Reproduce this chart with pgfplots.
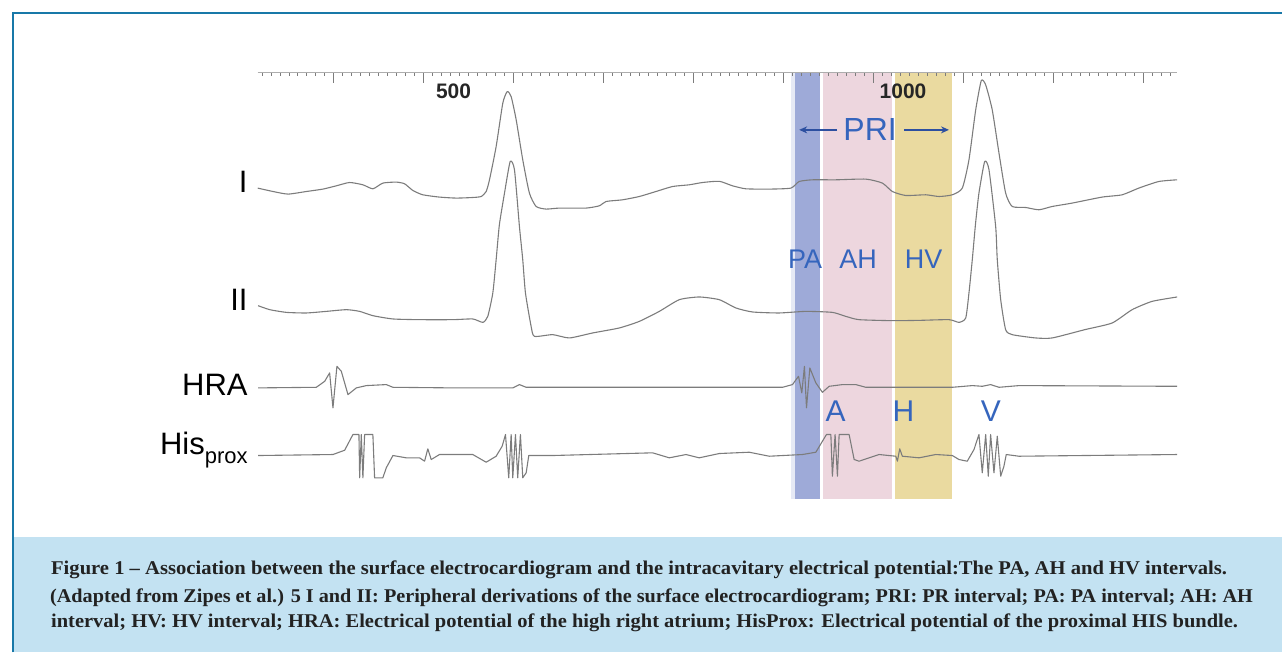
\documentclass[border=0pt]{standalone}
\usepackage{fontspec}
\setmainfont{Liberation Serif}
\newfontfamily\sansf{Liberation Sans}
\usepackage{graphicx}
\usepackage{pgfplots}
\pgfplotsset{compat=1.18}
\usetikzlibrary{arrows.meta}
\definecolor{frameblue}{HTML}{1878A8}
\definecolor{capbg}{HTML}{C3E2F2}
\definecolor{bandblue}{HTML}{9EAAD8}
\definecolor{bandpale}{HTML}{E6E9F5}
\definecolor{bandpink}{HTML}{EDD6DE}
\definecolor{bandyellow}{HTML}{EADAA0}
\definecolor{lblblue}{HTML}{3565BD}
\definecolor{arrowblue}{HTML}{2C4FA0}
\definecolor{trace}{HTML}{7C7C7C}
\definecolor{captext}{HTML}{222222}
\definecolor{ruler}{HTML}{8A8A8A}
\begin{document}
\begin{tikzpicture}
\path (0pt,0pt) rectangle (1283pt,653pt);
\begin{scope}[x=1pt,y=1pt]
\fill[capbg] (14.5,0) rectangle (1283,115);
\draw[frameblue,line width=2.7pt] (13,0) -- (13,640) -- (1283,640);
\end{scope}
\begin{axis}[
  at={(257.8pt,153pt)}, anchor=south west,
  scale only axis, width=920.7pt, height=427pt,
  xmin=282, xmax=1305, ymin=0, ymax=427,
  axis x line*=top, axis y line=none,
  axis line style={draw=ruler!70, line width=0.9pt},
  xtick={367,467,...,1267}, xticklabels={},
  minor xtick={287,297,...,1297},
  tick align=inside,
  major tick length=10pt, minor tick length=3.5pt,
  every tick/.style={ruler!90!black, line width=1pt},
  axis on top,
]
% interval bands
\addplot[draw=none, fill=bandpale] coordinates {(875.6,0) (875.6,427) (880,427) (880,0)} --cycle;
\addplot[draw=none, fill=bandblue] coordinates {(880,0) (880,427) (907.4,427) (907.4,0)} --cycle;
\addplot[draw=none, fill=bandpink] coordinates {(911.1,0) (911.1,427) (988.1,427) (988.1,0)} --cycle;
\addplot[draw=none, fill=bandyellow] coordinates {(991.1,0) (991.1,427) (1054.1,427) (1054.1,0)} --cycle;
% Lead I
\addplot[trace, line width=1.1pt, line join=round, smooth, tension=0.35] coordinates {
(282.2,311.7) (299.2,308.3) (315.9,305.7) (336.3,308.3) (354.8,310.7) (369.7,314) (384.4,317.3) (399.2,315) (410.3,311) (421.4,316.7) (436.3,317.7) (445.6,316) (454.8,309.3) (465.9,305) (484.4,302.7) (503,301.7) (521.4,302.3) (530.8,303.3) (536.3,308.3) (540,320) (547.4,353.3) (554.8,396.7) (559.7,408.3) (564.1,403.3) (569.7,380) (577,340) (584.4,306.7) (591.9,293.3) (603,290.7) (617.8,291.7) (647.4,291.7) (662.2,294) (669.7,298.3) (688.1,300) (706.7,303.3) (725.2,308.3) (743.7,313.3) (762.2,315) (777,317.3) (795.6,318.5) (810.3,314) (825.2,311) (851.1,310.7) (875.2,311.7) (884.4,318.3) (899.2,320) (925.2,320) (958.6,320.7) (977,316.7) (988.1,308.3) (1003,304.3) (1025.2,305) (1040,303.3) (1054.8,305) (1065.9,311.7) (1073.3,340) (1080.8,390) (1087,419.3) (1091.9,415) (1099.2,390) (1106.7,346.7) (1114.1,306.7) (1121.4,293.3) (1136.3,292.3) (1151.1,290) (1165.9,293.3) (1188.1,296.7) (1221.4,302.7) (1243.7,305) (1262.2,311.7) (1284.4,318.3) (1304.8,320)
};
% Lead II
\addplot[trace, line width=1.1pt, line join=round, smooth, tension=0.35] coordinates {
(282.6,194) (295.6,190) (314.1,187.3) (336.3,186.7) (358.6,188.3) (380.8,190) (395.6,188.3) (410.3,184) (432.6,180.7) (462.2,180) (499.2,180) (521.4,180.7) (532.6,177.3) (538.1,183.3) (543.7,206.7) (547.4,240) (551,275) (556.7,306.7) (563,338.3) (567.8,330) (573.3,273.3) (577,240) (580,206.7) (586.3,173.3) (590,163.3) (610.3,165) (628.9,161.7) (654.8,166.7) (684.4,171.7) (706.7,178.3) (728.9,188.3) (751.1,200) (773.3,202.7) (795.6,200) (814.1,191.7) (832.6,187.7) (862.2,186.7) (891.9,188.3) (921.4,187.3) (936.3,183.3) (951.1,180) (988.1,179) (1017.8,179.3) (1051.1,180) (1062.2,177.3) (1069.7,181.7) (1073.3,206.7) (1077,240) (1080.5,275) (1084.4,306.7) (1090.8,338.3) (1095.6,330) (1103,273.3) (1104.8,240) (1108.6,200) (1114.1,170) (1121.4,165) (1147.4,161.7) (1165.9,161.7) (1202.2,170) (1232.6,176.7) (1254.8,190) (1277,198.3) (1304.8,202.7)
};
% HRA
\addplot[trace, line width=1.1pt, line join=round] coordinates {
(282.6,111.7) (347.4,112.3) (356.7,118.3) (362.2,126.7) (365.9,91.7) (370.3,133.3) (375.2,128.3) (382.6,105) (391.9,111.7) (403,114) (425.2,115) (432.6,112.3) (499.2,111.7) (565.9,111.7) (573.3,115) (580.8,112.3) (795.6,112.3) (865.9,112.3) (877,115) (883.7,123.3) (887.4,106.7) (890.3,133.3) (892.6,91.7) (896.3,131.7) (903,116.7) (910.3,107.3) (917.8,113.3) (932.6,115) (947.4,115) (958.6,112.3) (1054.8,112.3) (1077,114) (1088.1,113.3) (1097.4,115) (1106.7,112.3) (1128.9,114) (1304.8,113.3)
};
% His prox
\addplot[trace, line width=1.1pt, line join=round] coordinates {
(282.6,44) (365.9,45) (378.9,49.3) (388.1,65) (394.8,65) (395.6,21.7) (397.4,65) (399.2,21.7) (401.1,65) (410.3,65) (412.2,21.7) (421.4,21.7) (425.2,31.7) (432.6,44) (447.4,41.7) (462.2,41.7) (467.8,38.3) (471.4,50.7) (475.2,40) (484.4,45) (521.4,45) (536.3,37.3) (547.4,43.3) (554.1,53.3) (557.8,65) (561.4,21.7) (564.1,65) (565.9,21.7) (568.9,65) (571.4,21.7) (574.4,65) (577,21.7) (580.8,26.7) (583.7,44) (610.3,44) (721.4,46.7) (740,41.7) (758.6,45) (773.3,41.7) (795.6,46) (828.9,47.3) (851.1,43.3) (888.1,45) (903,47.3) (910.3,58.3) (914.8,65) (919.7,65) (921.4,23.3) (924.4,65) (927,23.3) (928.9,65) (940,65) (945.6,40) (951.1,38.3) (973.3,45) (991.9,43.3) (993.7,38.3) (996.3,50.7) (999.2,43.3) (1017.8,41.7) (1036.3,45) (1054.8,44) (1062.2,40) (1071.4,38.3) (1078.9,50) (1084.4,65) (1088.1,26.7) (1091.9,65) (1094.8,23.3) (1097.4,65) (1101.1,26.7) (1104.8,63.3) (1108.6,23.3) (1112.2,33.3) (1114.8,45) (1128.9,43.3) (1304.8,45)
};
\end{axis}
\begin{scope}[x=1pt,y=1pt]
% ruler labels
\node[anchor=base, inner sep=0, text=black!85] at (454,554) {\sansf\fontsize{21}{21}\selectfont\bfseries 500};
\node[anchor=base, inner sep=0, text=black!85] at (904,554) {\sansf\fontsize{21}{21}\selectfont\bfseries 1000};
% lead labels
\node[anchor=base east, inner sep=0] at (248,460) {\sansf\fontsize{31}{31}\selectfont I};
\node[anchor=base east, inner sep=0] at (248,342) {\sansf\fontsize{31}{31}\selectfont II};
\node[anchor=base east, inner sep=0] at (248,257.3) {\sansf\fontsize{31}{31}\selectfont HRA};
\node[anchor=base east, inner sep=0] at (248,198) {\sansf\fontsize{31}{31}\selectfont His\raisebox{-9pt}{\fontsize{22}{22}\selectfont prox}};
% PRI and intervals
\node[anchor=base, inner sep=0, text=lblblue] at (871,512) {\sansf\fontsize{32}{32}\selectfont PRI};
\draw[arrowblue, line width=2pt, -{Stealth[length=8pt,width=7pt]}] (838,523) -- (800,523);
\draw[arrowblue, line width=2pt, -{Stealth[length=8pt,width=7pt]}] (905,523) -- (950,523);
\node[anchor=base, inner sep=0, text=lblblue] at (806,384) {\sansf\fontsize{27}{27}\selectfont PA};
\node[anchor=base, inner sep=0, text=lblblue] at (859,384) {\sansf\fontsize{27}{27}\selectfont AH};
\node[anchor=base, inner sep=0, text=lblblue] at (924.5,384) {\sansf\fontsize{27}{27}\selectfont HV};
\node[anchor=base, inner sep=0, text=lblblue] at (836.5,231) {\sansf\fontsize{30}{30}\selectfont A};
\node[anchor=base, inner sep=0, text=lblblue] at (904.5,231) {\sansf\fontsize{30}{30}\selectfont H};
\node[anchor=base, inner sep=0, text=lblblue] at (992,231) {\sansf\fontsize{30}{30}\selectfont V};
% caption
\node[anchor=base west, inner sep=0, text=captext] at (51,78) {\resizebox{1177pt}{\height}{\fontsize{19.5}{19.5}\selectfont\bfseries Figure 1 -- Association between the surface electrocardiogram and the intracavitary electrical potential:The PA, AH and HV intervals.}};
\node[anchor=base west, inner sep=0, text=captext] at (50,49.7) {\resizebox{1204pt}{\height}{\fontsize{19.5}{19.5}\selectfont\bfseries (Adapted from Zipes et al.) 5 I and II: Peripheral derivations of the surface electrocardiogram; PRI: PR interval; PA: PA interval; AH: AH}};
\node[anchor=base west, inner sep=0, text=captext] at (51,24.7) {\resizebox{1188pt}{\height}{\fontsize{19.5}{19.5}\selectfont\bfseries interval; HV: HV interval; HRA: Electrical potential of the high right atrium; HisProx: Electrical potential of the proximal HIS bundle.}};
\end{scope}
\end{tikzpicture}
\end{document}
